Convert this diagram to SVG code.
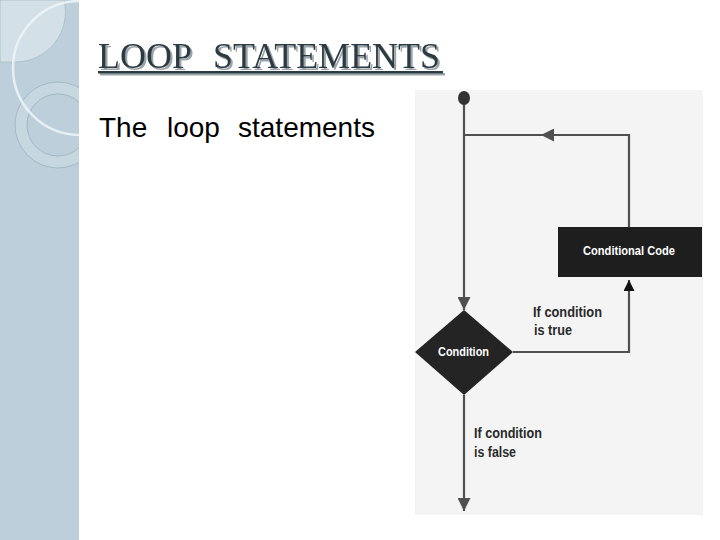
<svg xmlns="http://www.w3.org/2000/svg" width="720" height="540" viewBox="0 0 720 540">
<style>
.title{font-family:"Liberation Serif","Times New Roman",serif;font-size:36px;fill:#2c3a42}
.body{font-family:"Liberation Sans",Arial,sans-serif;font-size:28px;fill:#000}
.lbl{font-family:"Liberation Sans",Arial,sans-serif;font-size:14.5px;font-weight:bold;fill:#2a2a2a}
.wlbl{font-family:"Liberation Sans",Arial,sans-serif;font-size:12.5px;font-weight:bold;fill:#ffffff}
.edge{stroke:#505050;stroke-width:2.2;fill:none}
</style>
<defs>
<clipPath id="strip"><rect x="0" y="0" width="79" height="540"/></clipPath>
<filter id="shadow" x="-5%" y="-20%" width="110%" height="150%">
<feOffset in="SourceAlpha" dx="2" dy="2" result="o"/>
<feFlood flood-color="#9aa4aa"/>
<feComposite in2="o" operator="in" result="s"/>
<feMerge><feMergeNode in="s"/><feMergeNode in="SourceGraphic"/></feMerge>
</filter>
<marker id="ah" viewBox="0 0 10 10" refX="10" refY="5" markerWidth="14" markerHeight="13" markerUnits="userSpaceOnUse" orient="auto"><path d="M0,0 L10,5 L0,10 Z" fill="#505050"/></marker>
<marker id="ahb" viewBox="0 0 10 10" refX="10" refY="5" markerWidth="15" markerHeight="11" markerUnits="userSpaceOnUse" orient="auto"><path d="M0,0 L10,5 L0,10 Z" fill="#111"/></marker>
</defs>
<rect x="0" y="0" width="720" height="540" fill="#ffffff"/>
<g id="decor" clip-path="url(#strip)">
<rect x="0" y="0" width="79" height="540" fill="#bccfda"/>
<path d="M0,0 H64 A50,50 0 0 1 14,62 H0 Z" fill="#d3e0e7" stroke="#a7bcc8" stroke-width="0.8"/>
<circle cx="58" cy="125" r="37" fill="none" stroke="#c6d7e0" stroke-width="11"/>
<circle cx="58" cy="125" r="43" fill="none" stroke="#9fb4c0" stroke-width="0.8"/>
<circle cx="58" cy="125" r="31" fill="none" stroke="#9fb4c0" stroke-width="0.8"/>
<circle cx="80" cy="68" r="67" fill="none" stroke="#eef4f7" stroke-width="2.5" opacity="0.85"/>
</g>
<g id="title" filter="url(#shadow)">
<text class="title" x="98" y="68">LOOP</text>
<text class="title" x="213" y="68">STATEMENTS</text>
<rect x="98" y="71" width="345" height="2.5" fill="#2c3a42"/>
</g>
<g id="bodytext">
<text class="body" x="99" y="137">The</text>
<text class="body" x="167" y="137">loop</text>
<text class="body" x="238" y="137">statements</text>
</g>
<rect id="panel" x="415" y="90" width="288" height="425" fill="#f4f4f4"/>
<g id="connectors">
<path class="edge" d="M464,100 V310" marker-end="url(#ah)"/>
<path class="edge" d="M629,227 V135 H541" marker-end="url(#ah)"/>
<path class="edge" d="M545,135 H464"/>
<path class="edge" d="M513,352 H629 V280" stroke="#222" marker-end="url(#ahb)"/>
<path class="edge" d="M464,395 V511" marker-end="url(#ah)"/>
</g>
<g id="start">
<ellipse cx="464" cy="98" rx="6" ry="7" fill="#333"/>
</g>
<g id="condition">
<polygon points="464,310 513,352 464,395 415,352" fill="#242424"/>
<text class="wlbl" x="438" y="356" textLength="51" lengthAdjust="spacingAndGlyphs">Condition</text>
</g>
<g id="code">
<rect x="558" y="227" width="144" height="50" fill="#1e1e1e"/>
<text class="wlbl" x="583" y="255" textLength="92" lengthAdjust="spacingAndGlyphs">Conditional Code</text>
</g>
<g id="labels">
<text class="lbl" x="533" y="317" textLength="69" lengthAdjust="spacingAndGlyphs">If condition</text>
<text class="lbl" x="534" y="335" textLength="38" lengthAdjust="spacingAndGlyphs">is true</text>
<text class="lbl" x="474" y="438" textLength="68" lengthAdjust="spacingAndGlyphs">If condition</text>
<text class="lbl" x="474" y="457" textLength="42" lengthAdjust="spacingAndGlyphs">is false</text>
</g>
</svg>
